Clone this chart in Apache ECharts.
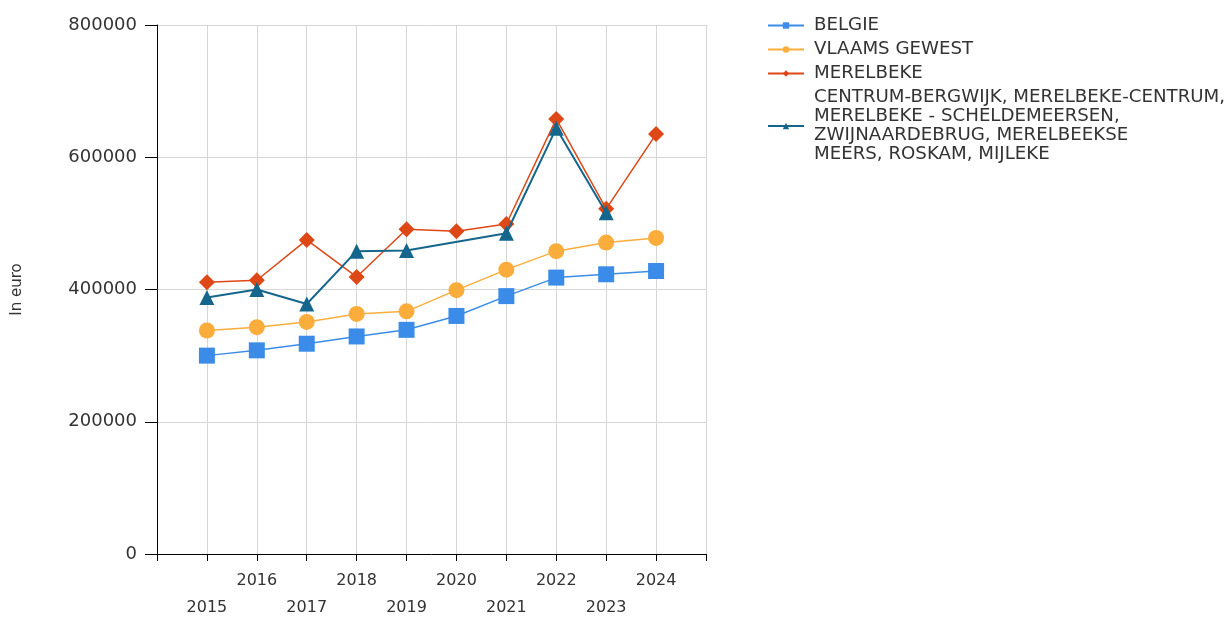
<!DOCTYPE html>
<html>
<head>
<meta charset="utf-8">
<script src="https://cdn.jsdelivr.net/npm/echarts@6/dist/echarts.min.js"></script>
<style>
html,body{margin:0;padding:0;background:#fff;}
#chart{width:1231px;height:621px;}
</style>
</head>
<body>
<div id="chart"></div>
<script>
const years = [2015, 2016, 2017, 2018, 2019, 2020, 2021, 2022, 2023, 2024];
const seriesNames = [
  'BELGIE',
  'VLAAMS GEWEST',
  'MERELBEKE',
  'CENTRUM-BERGWIJK, MERELBEKE-CENTRUM,\nMERELBEKE - SCHELDEMEERSEN,\nZWIJNAARDEBRUG, MERELBEEKSE\nMEERS, ROSKAM, MIJLEKE'
];
const belgie = [300000, 308000, 318000, 329000, 339000, 360000, 390000, 418000, 423000, 428000];
const vlaamsGewest = [338000, 343000, 351000, 363000, 367000, 399000, 430000, 458000, 471000, 478000];
const merelbeke = [411000, 414000, 475000, 419000, 491000, 488000, 499000, 658000, 522000, 635000];
const wijk = [388000, 400000, 378000, 458000, 459000, null, 485000, 644000, 516000, null];
const yTicks = [0, 200000, 400000, 600000, 800000];

const FONT = 'DejaVu Sans';
const colors = ['#3b8ce8', '#fbad3c', '#de4716', '#15668c'];
const symbols = ['rect', 'circle', 'diamond', 'triangle'];
const sizes = [16, 16, 16, 15];
const widths = [1.5, 1.5, 1.5, 2];
const datasets = [belgie, vlaamsGewest, merelbeke, wijk];

const chart = echarts.init(document.getElementById('chart'), null, {renderer: 'canvas', width: 1231, height: 621});
chart.setOption({
  animation: false,
  backgroundColor: '#fff',
  grid: {left: 157, top: 25, width: 549, height: 534, containLabel: false},
  legend: {
    orient: 'vertical',
    left: 762,
    top: 11,
    padding: 5,
    itemWidth: 36,
    itemHeight: 8,
    itemGap: 5,
    textStyle: {fontFamily: FONT, fontSize: 18.2, lineHeight: 19, color: '#333', padding: [0, 0, 0, 5]},
    data: seriesNames
  },
  xAxis: {
    type: 'value',
    min: 2014,
    max: 2025,
    interval: 1,
    axisLine: {show: true, onZero: false, lineStyle: {color: '#000', width: 1}},
    axisTick: {show: true, length: 7, lineStyle: {color: '#000'}},
    axisLabel: {
      fontFamily: FONT,
      fontSize: 16,
      lineHeight: 27,
      color: '#333',
      margin: 13,
      showMinLabel: true,
      showMaxLabel: true,
      formatter: function (v) {
        if (years.indexOf(v) < 0) return '';
        return (v % 2 === 1) ? '\n' + v : String(v);
      }
    },
    splitLine: {show: true, lineStyle: {color: '#d6d6d6', width: 1}}
  },
  yAxis: {
    type: 'value',
    min: yTicks[0],
    max: yTicks[yTicks.length - 1],
    interval: yTicks[1] - yTicks[0],
    name: 'In euro',
    nameLocation: 'middle',
    nameRotate: 90,
    nameGap: 132,
    nameTextStyle: {fontFamily: FONT, fontSize: 15, color: '#333'},
    axisLine: {show: true, lineStyle: {color: '#000', width: 1}},
    axisTick: {show: true, length: 12, lineStyle: {color: '#000'}},
    axisLabel: {fontFamily: FONT, fontSize: 18, color: '#333', margin: 20, formatter: function (v) { return String(v); }},
    splitLine: {show: true, lineStyle: {color: '#d6d6d6', width: 1}}
  },
  series: datasets.map(function (arr, i) {
    return {
      name: seriesNames[i],
      type: 'line',
      data: years.map(function (y, j) { return [y, arr[j]]; }),
      connectNulls: true,
      symbol: symbols[i],
      symbolSize: sizes[i],
      showAllSymbol: true,
      itemStyle: {color: colors[i]},
      lineStyle: {color: colors[i], width: widths[i]},
      z: 2 + i
    };
  })
});
</script>
</body>
</html>
